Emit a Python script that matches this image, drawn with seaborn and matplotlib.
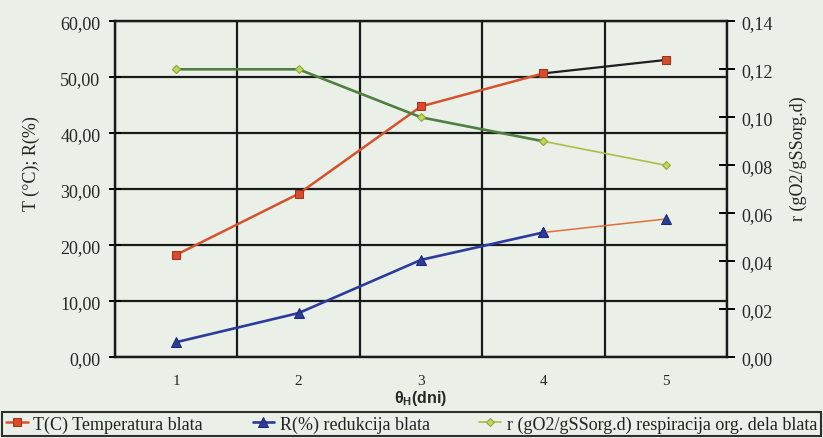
import matplotlib
matplotlib.use("Agg")
import matplotlib.pyplot as plt
import seaborn as sns
from matplotlib.ticker import FixedLocator, FuncFormatter

# data
days = [1, 2, 3, 4, 5]
day_labels = ["1", "2", "3", "4", "5"]
temperatura = [18.3, 29.2, 44.8, 50.7, 53.1]      # T (C)
redukcija = [2.7, 7.9, 17.4, 22.3, 24.7]          # R (%)
respiracija = [0.120, 0.120, 0.100, 0.090, 0.080]  # r (gO2/gSSorg.d)

left_ticks = [0, 10, 20, 30, 40, 50, 60]
right_ticks = [0.00, 0.02, 0.04, 0.06, 0.08, 0.10, 0.12, 0.14]

series_names = ["T(C) Temperatura blata",
                "R(%) redukcija blata",
                "r (gO2/gSSorg.d) respiracija org. dela blata"]

sns.set_theme(style="white")
plt.rcParams["font.family"] = ["Liberation Serif", "DejaVu Serif"]
plt.rcParams["text.color"] = "#222222"

paper = "#eaf0e8"
fig = plt.figure(figsize=(8.23, 4.39), dpi=100)
fig.patch.set_facecolor(paper)
ax = fig.add_axes([0.1397, 0.1838, 0.7437, 0.7654])
ax.set_facecolor(paper)
ax2 = ax.twinx()

# each series: main line for days 1-4, the last segment has its own colour
# in the original chart
T_style = dict(marker="s", markersize=6, markerfacecolor="#dc4a2a",
               markeredgecolor="#9a3520", zorder=5)
R_style = dict(marker="^", markersize=7, markerfacecolor="#2b3c9a",
               markeredgecolor="#1c2870", zorder=5)
r_style = dict(marker="D", markersize=4.5, markerfacecolor="#c2d45a",
               markeredgecolor="#8aa83a", zorder=5)

sns.lineplot(x=days[:4], y=temperatura[:4], ax=ax, color="#d4532c",
             linewidth=1.8, label=series_names[0], **T_style)
sns.lineplot(x=days[3:], y=temperatura[3:], ax=ax, color="#1e1e1e",
             linewidth=1.6, legend=False, **T_style)

sns.lineplot(x=days[:4], y=redukcija[:4], ax=ax, color="#2b3c9a",
             linewidth=1.9, label=series_names[1], **R_style)
sns.lineplot(x=days[3:], y=redukcija[3:], ax=ax, color="#e0703a",
             linewidth=1.1, legend=False, **R_style)

sns.lineplot(x=days[:4], y=respiracija[:4], ax=ax2, color="#4f8040",
             linewidth=1.9, legend=False, **r_style)
sns.lineplot(x=days[3:], y=respiracija[3:], ax=ax2, color="#a8c048",
             linewidth=1.2, legend=False, **r_style)
# legend sample for r uses the light green of the original legend
sns.lineplot(x=days[:1], y=respiracija[:1], ax=ax2, color="#a8c048",
             linewidth=1.2, label=series_names[2], **r_style)

# axes ranges and ticks
ax.set_xlim(0.5, 5.5)
ax.set_ylim(0, 60)
ax2.set_ylim(0, 0.14)

ax.set_xticks(days)
ax.set_xticklabels(day_labels)
ax.xaxis.set_minor_locator(FixedLocator([0.5, 1.5, 2.5, 3.5, 4.5, 5.5]))
ax.set_yticks(left_ticks)
ax2.set_yticks(right_ticks)

comma = lambda v, pos: f"{v:.2f}".replace(".", ",")
ax.yaxis.set_major_formatter(FuncFormatter(comma))
ax2.yaxis.set_major_formatter(FuncFormatter(comma))

ax.tick_params(axis="x", which="major", length=0, pad=12, labelsize=11)
ax.tick_params(axis="x", which="minor", direction="inout", length=9,
               width=1.4, color="black")
ax.tick_params(axis="y", direction="inout", length=9, width=1.4,
               color="black", labelsize=13, pad=6)
ax2.tick_params(axis="y", direction="inout", length=12, width=1.4,
                color="black", labelsize=13, pad=4)

# black grid: rows on the left axis, columns between days
ax.grid(which="major", axis="y", color="#1a1a1a", linewidth=1.6)
ax.grid(which="minor", axis="x", color="#1a1a1a", linewidth=1.6)
ax.grid(which="major", axis="x", visible=False)
ax2.grid(False)

for a in (ax, ax2):
    for s in a.spines.values():
        s.set_color("#1a1a1a")
        s.set_linewidth(1.6)

ax.set_ylabel("T (°C); R(%)", fontsize=13)
ax.yaxis.set_label_coords(-0.123, 0.58)
ax2.set_ylabel("r (gO2/gSSorg.d)", fontsize=13)
ax2.yaxis.set_label_coords(1.103, 0.593)
ax.set_xlabel(r"θ$_{\mathregular{H}}$(dni)", fontsize=11.5, fontweight="bold",
              family=["Liberation Sans", "DejaVu Sans"], labelpad=1)

# one legend for both axes, boxed, across the bottom
h1, l1 = ax.get_legend_handles_labels()
h2, l2 = ax2.get_legend_handles_labels()
if ax.get_legend():
    ax.get_legend().remove()
if ax2.get_legend():
    ax2.get_legend().remove()
leg = fig.legend(h1 + h2, l1 + l2, loc="lower left",
                 bbox_to_anchor=(0.003, 0.004, 0.994, 0.06), mode="expand",
                 ncol=3, frameon=True, fancybox=False, fontsize=13,
                 handlelength=1.2, handletextpad=0.3, columnspacing=0.4,
                 borderpad=0.2, borderaxespad=0.0)
leg.get_frame().set_edgecolor("black")
leg.get_frame().set_linewidth(1.5)
leg.get_frame().set_facecolor(paper)

fig.savefig("out.png", dpi=100, facecolor=paper)
